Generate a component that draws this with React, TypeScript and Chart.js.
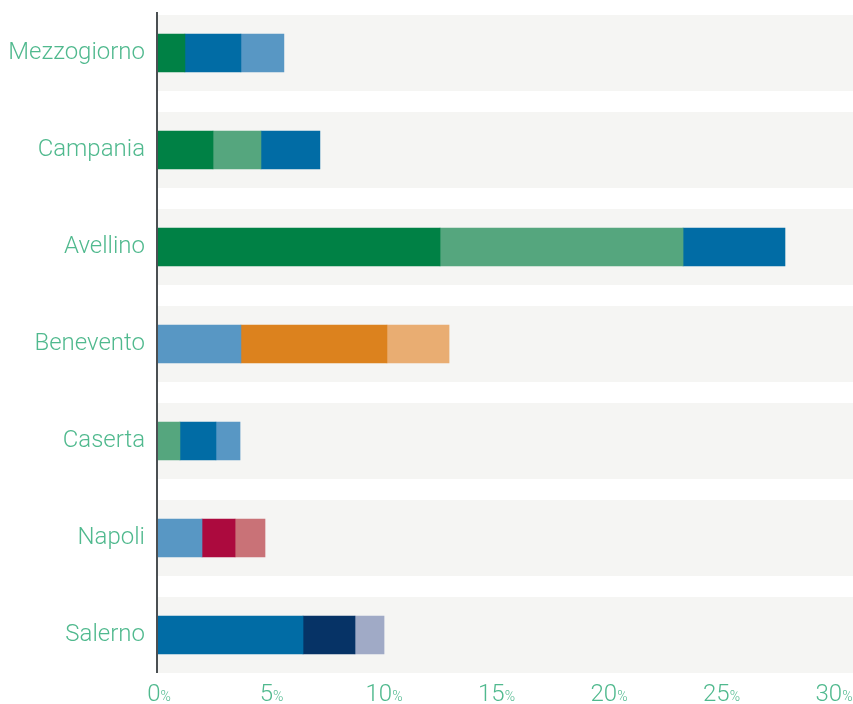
import React, { useEffect, useRef } from "react";
import { Chart, registerables } from "chart.js";

Chart.register(...registerables);

const categories = ["Mezzogiorno", "Campania", "Avellino", "Benevento", "Caserta", "Napoli", "Salerno"];

const darkGreen = [1.24, 2.49, 12.58, null, null, null, null];
const midGreen = [null, 2.13, 10.8, null, 1.02, null, null];
const blue = [2.49, 2.62, 4.53, null, 1.6, null, 6.49];
const lightBlue = [1.91, null, null, 3.73, 1.07, 2.0, null];
const orange = [null, null, null, 6.49, null, null, null];
const lightOrange = [null, null, null, 2.76, null, null, null];
const crimson = [null, null, null, null, null, 1.47, null];
const pink = [null, null, null, null, null, 1.33, null];
const navy = [null, null, null, null, null, null, 2.31];
const lavender = [null, null, null, null, null, null, 1.29];

const xTicks = [0, 5, 10, 15, 20, 25, 30];

const TEXT_COLOR = "#50b98e";
const FONT = "Roboto";

const seriesList = [
  { label: "Serie 1", data: darkGreen, color: "#008145" },
  { label: "Serie 2", data: midGreen, color: "#55a67e" },
  { label: "Serie 3", data: blue, color: "#016ca5" },
  { label: "Serie 4", data: lightBlue, color: "#5897c4" },
  { label: "Serie 5", data: orange, color: "#dc821e" },
  { label: "Serie 6", data: lightOrange, color: "#e9ad72" },
  { label: "Serie 7", data: crimson, color: "#ac0a3e" },
  { label: "Serie 8", data: pink, color: "#c97277" },
  { label: "Serie 9", data: navy, color: "#063366" },
  { label: "Serie 10", data: lavender, color: "#a0aac6" },
];

const bandsPlugin = {
  id: "bands",
  beforeDatasetsDraw(chart: any) {
    const { ctx, chartArea } = chart;
    const y = chart.scales.y;
    ctx.save();
    ctx.fillStyle = "#f5f5f3";
    categories.forEach((_, i) => {
      const py = y.getPixelForValue(i);
      ctx.fillRect(chartArea.left, py - 38, chart.width - chartArea.left, 76);
    });
    ctx.restore();
  },
  afterDatasetsDraw(chart: any) {
    const { ctx, chartArea } = chart;
    const y = chart.scales.y;
    const x = chart.scales.x;
    const top = y.getPixelForValue(0) - 41;
    const bottom = y.getPixelForValue(categories.length - 1) + 38;
    ctx.save();
    ctx.strokeStyle = "#4a4f52";
    ctx.lineWidth = 2;
    ctx.beginPath();
    ctx.moveTo(chartArea.left, top);
    ctx.lineTo(chartArea.left, bottom);
    ctx.stroke();

    ctx.fillStyle = TEXT_COLOR;
    ctx.textBaseline = "alphabetic";
    ctx.textAlign = "left";
    xTicks.forEach((t) => {
      const px = x.getPixelForValue(t) + 2;
      const num = String(t);
      ctx.font = `300 24px ${FONT}`;
      const w1 = ctx.measureText(num).width;
      ctx.font = `300 14px ${FONT}`;
      const w2 = ctx.measureText("%").width;
      const start = px - (w1 + w2) / 2;
      ctx.font = `300 24px ${FONT}`;
      ctx.fillText(num, start, 701);
      ctx.font = `300 14px ${FONT}`;
      ctx.fillText("%", start + w1, 701);
    });
    ctx.restore();
  },
};

export default function App() {
  const ref = useRef<HTMLCanvasElement>(null);
  useEffect(() => {
    document.body.style.margin = "0";
    const chart = new Chart(ref.current as HTMLCanvasElement, {
      type: "bar",
      data: {
        labels: categories,
        datasets: seriesList.map((s) => ({
          label: s.label,
          data: s.data as any,
          backgroundColor: s.color,
          borderWidth: 0,
          barThickness: 38,
        })),
      },
      options: {
        indexAxis: "y",
        animation: false,
        responsive: true,
        maintainAspectRatio: false,
        layout: { padding: { top: 4.5, bottom: 20.5, right: 21, left: 0 } },
        plugins: { legend: { display: false }, tooltip: { enabled: false } },
        scales: {
          x: {
            stacked: true,
            display: false,
            min: 0,
            max: 30,
          },
          y: {
            stacked: true,
            grid: { display: false, drawTicks: false },
            border: { display: false },
            afterFit: (s: any) => {
              s.width = 157;
              s.paddingTop = 0;
              s.paddingBottom = 0;
            },
            ticks: {
              color: TEXT_COLOR,
              padding: 12,
              font: { family: FONT, size: 24, weight: 300 as any },
            },
          },
        },
      },
      plugins: [bandsPlugin],
    });
    return () => chart.destroy();
  }, []);
  return (
    <div style={{ position: "relative", width: 853, height: 704 }}>
      <canvas ref={ref} />
    </div>
  );
}
